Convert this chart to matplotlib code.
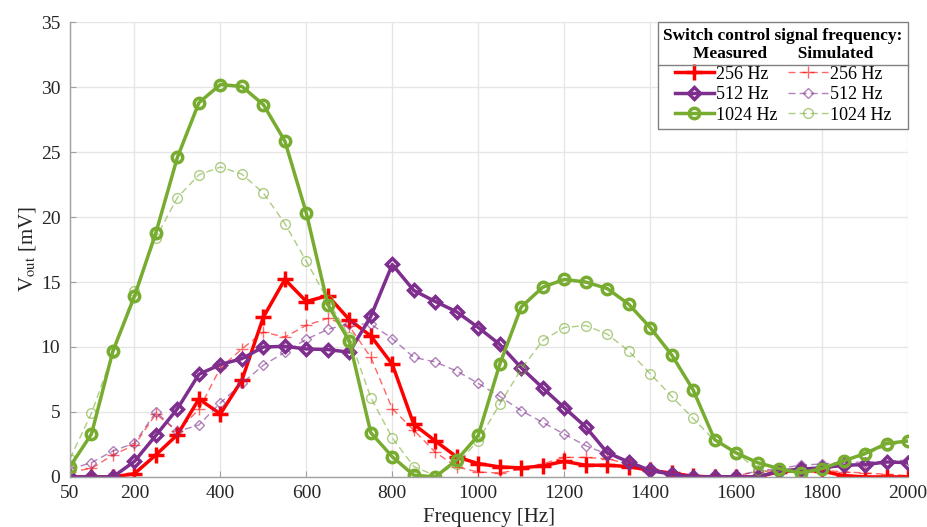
import matplotlib
matplotlib.use("Agg")
import matplotlib.pyplot as plt
from matplotlib.lines import Line2D
import numpy as np

plt.rcParams['font.family'] = ['Liberation Serif', 'DejaVu Serif']
plt.rcParams['mathtext.fontset'] = 'stix'

freq = np.arange(50, 2001, 50)

meas_256 = [0, 0, 0, 0.25, 1.7, 3.25, 6.0, 4.85, 7.45, 12.3, 15.2, 13.5, 13.95, 12.1,
            10.85, 8.67, 4.05, 2.77, 1.54, 1.03, 0.77, 0.7, 0.85, 1.2, 0.9, 0.9, 0.8, 0.5,
            0.3, 0.05, 0, 0, 0, 0.4, 0.5, 0.45, 0.1, 0, 0, 0]
sim_256 = [0.4, 0.65, 1.7, 2.45, 4.85, 3.5, 5.2, 8.4, 9.85, 11.15, 10.76, 11.67, 12.2, 11.6,
           9.2, 5.25, 3.6, 1.9, 0.77, 0.38, 0.3, 0.6, 1.0, 1.5, 1.5, 1.4, 1.0, 0.6,
           0.25, 0.1, 0.05, 0.1, 0.4, 0.5, 0.6, 0.5, 0.4, 0.3, 0.2, 0.1]
meas_512 = [0, 0, 0, 1.2, 3.2, 5.25, 7.9, 8.65, 9.1, 10.0, 10.05, 9.85, 9.8, 9.6,
            12.35, 16.35, 14.35, 13.5, 12.7, 11.5, 10.2, 8.4, 6.85, 5.33, 3.85, 1.87, 1.15, 0.5,
            0.2, 0, 0, 0, 0, 0.45, 0.6, 0.7, 0.9, 0.95, 1.15, 1.1]
sim_512 = [0.6, 1.1, 2.0, 2.6, 5.0, 3.5, 4.0, 5.7, 7.2, 8.6, 9.6, 10.6, 11.35, 11.8,
           11.75, 10.65, 9.2, 8.85, 8.15, 7.2, 6.2, 5.1, 4.2, 3.3, 2.4, 1.75, 1.15, 0.65,
           0.3, 0.1, 0.05, 0.1, 0.45, 0.65, 0.9, 1.0, 1.1, 1.15, 1.2, 1.3]
meas_1024 = [0.8, 3.3, 9.7, 13.9, 18.8, 24.6, 28.8, 30.2, 30.05, 28.65, 25.85, 20.3, 13.25, 10.45,
             3.4, 1.55, 0.13, 0.0, 1.3, 3.2, 8.67, 13.08, 14.6, 15.2, 15.0, 14.5, 13.3, 11.5,
             9.4, 6.7, 2.87, 1.85, 1.1, 0.64, 0.3, 0.64, 1.23, 1.8, 2.57, 2.77]
sim_1024 = [1.4, 4.9, 9.5, 14.3, 18.4, 21.5, 23.25, 23.85, 23.3, 21.85, 19.5, 16.6, 13.6, 10.8,
            6.1, 3.0, 0.8, 0.1, 1.0, 2.8, 5.6, 8.3, 10.5, 11.5, 11.65, 11.0, 9.7, 7.95,
            6.2, 4.5, 2.8, 1.9, 0.5, 0.4, 0.4, 0.6, 1.3, 1.7, 2.4, 2.7]

labels = ['256 Hz', '512 Hz', '1024 Hz']
colors = ['#ff0000', '#7e2f8e', '#77ac30']
markers = ['+', 'D', 'o']
xticks = [50, 200, 400, 600, 800, 1000, 1200, 1400, 1600, 1800, 2000]
yticks = [0, 5, 10, 15, 20, 25, 30, 35]

fig = plt.figure(figsize=(9.27, 5.27), dpi=100)
ax = fig.add_axes([0.0755, 0.095, 0.904, 0.863])

msize_meas = {'+': 11, 'D': 6.2, 'o': 7.5}
msize_sim = {'+': 9, 'D': 5.5, 'o': 7}

meas = [meas_256, meas_512, meas_1024]
sims = [sim_256, sim_512, sim_1024]
mh, sh = [], []
for m, s, c, mk, lab in zip(meas, sims, colors, markers, labels):
    l2, = ax.plot(freq, s, linestyle='--', color=c, lw=1.0, marker=mk, ms=msize_sim[mk],
                  mfc='none', mew=1.0, alpha=0.6, label=lab, dashes=(5, 3))
    l1, = ax.plot(freq, m, linestyle='-', color=c, lw=2.5, marker=mk, ms=msize_meas[mk],
                  mfc='none', mew=2.5, label=lab)
    mh.append(l1)
    sh.append(l2)

ax.set_xlim(50, 2000)
ax.set_ylim(0, 35)
ax.set_xticks(xticks)
ax.set_yticks(yticks)
ax.grid(True, color='#e6e6e6', lw=1.0)
ax.set_axisbelow(True)
for sp in ['top', 'right']:
    ax.spines[sp].set_visible(False)
for sp in ['left', 'bottom']:
    ax.spines[sp].set_color('#a0a0a0')
    ax.spines[sp].set_linewidth(1.0)
ax.tick_params(direction='in', length=4, color='#a0a0a0', labelsize=14,
               labelcolor='#262626')
ax.tick_params(axis='y', pad=7)
ax.tick_params(axis='x', pad=6)
ax.set_xlabel('Frequency [Hz]', fontsize=15, color='#262626', labelpad=4)
ax.set_ylabel(r'V$_{\mathrm{out}}$ [mV]', fontsize=15, color='#262626', labelpad=2)

leg = ax.legend(mh + sh, labels + labels, ncol=2, loc='upper right',
                bbox_to_anchor=(1.0, 1.0), borderaxespad=0.0,
                title='Switch control signal frequency:\nMeasured       Simulated',
                title_fontproperties={'weight': 'bold', 'size': 12.5, 'family': 'Liberation Serif'},
                fontsize=13, handlelength=2.2, handletextpad=0.1, columnspacing=0.6,
                labelspacing=0.2, borderpad=0.3, fancybox=False, framealpha=1.0,
                edgecolor='#808080')
leg.get_frame().set_linewidth(1.0)
leg.get_title().set_multialignment('center')
leg.get_title().set_linespacing(1.2)

fig.canvas.draw()
renderer = fig.canvas.get_renderer()
fb = leg.get_frame().get_window_extent(renderer)
tb = leg.get_title().get_window_extent(renderer)
yline = tb.y0 - 3
inv = fig.transFigure.inverted()
(x0f, yf), (x1f, _) = inv.transform([(fb.x0, yline), (fb.x1, yline)])
fig.add_artist(Line2D([x0f, x1f], [yf, yf], color='#808080', lw=1.0))

fig.savefig('out.png', dpi=100)
